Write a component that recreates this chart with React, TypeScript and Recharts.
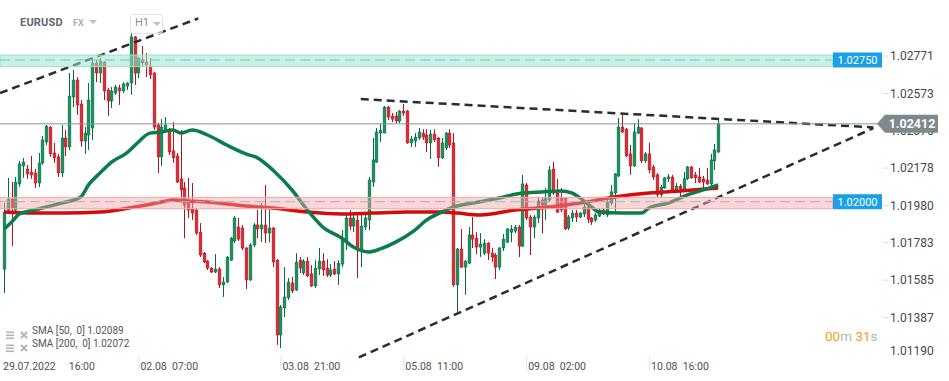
import React from 'react';
import { ComposedChart, Bar, Line, XAxis, YAxis, ReferenceLine, ReferenceArea } from 'recharts';

const openP = [1.01643,1.01956,1.02014,1.01956,1.02094,1.02189,1.02173,1.02157,1.02152,1.02099,1.02205,1.02316,1.02395,1.02258,1.02237,1.02152,1.02337,1.0229,1.02554,1.02644,1.02517,1.02321,1.02353,1.0239,1.02734,1.02681,1.02739,1.02591,1.02533,1.02575,1.02602,1.02586,1.02612,1.02628,1.02872,1.02681,1.0275,1.02739,1.02718,1.02681,1.02406,1.02237,1.02379,1.02379,1.02269,1.02242,1.02121,1.02073,1.01998,1.01961,1.01956,1.01839,1.01728,1.01686,1.01649,1.01628,1.01644,1.0156,1.01575,1.01691,1.01792,1.01866,1.01861,1.01755,1.01586,1.01771,1.01877,1.01856,1.01877,1.01834,1.01861,1.01691,1.01295,1.01438,1.01491,1.0157,1.01533,1.01691,1.01623,1.01686,1.01618,1.01554,1.01644,1.01686,1.01649,1.01612,1.01644,1.01618,1.0167,1.01786,1.01914,1.01871,1.01903,1.01744,1.01866,1.01903,1.02104,1.0221,1.02363,1.02363,1.02501,1.02453,1.02453,1.02427,1.0248,1.0248,1.02311,1.02321,1.02337,1.02363,1.02353,1.02311,1.02358,1.02337,1.02232,1.02284,1.02363,1.02311,1.0156,1.0175,1.01654,1.01675,1.01824,1.01807,1.0176,1.01728,1.01781,1.01728,1.01718,1.01654,1.01755,1.01786,1.01839,1.01845,1.01866,1.01765,1.02089,1.01919,1.01866,1.01914,1.02009,1.01982,1.02009,1.02173,1.02046,1.0202,1.0202,1.01861,1.01914,1.0194,1.01919,1.01935,1.01972,1.01914,1.01903,1.01924,1.01956,1.0193,1.01993,1.02046,1.02136,1.02395,1.02384,1.02253,1.02189,1.02363,1.0239,1.02216,1.02253,1.02184,1.02142,1.02036,1.02073,1.02121,1.02131,1.02062,1.02083,1.02068,1.02121,1.02184,1.02142,1.02131,1.02121,1.02115,1.02094,1.02216,1.02263];
const highP = [1.01993,1.02126,1.02104,1.02131,1.02216,1.02232,1.02195,1.02242,1.02173,1.02258,1.02348,1.02406,1.024,1.02311,1.02253,1.02406,1.02379,1.02681,1.02697,1.0266,1.02538,1.02395,1.02628,1.0276,1.0275,1.0276,1.02744,1.02602,1.02607,1.02618,1.02618,1.02633,1.02633,1.02897,1.02877,1.02766,1.02824,1.02787,1.0276,1.02686,1.02416,1.02437,1.02448,1.0239,1.02421,1.02258,1.02379,1.02104,1.02126,1.02099,1.01967,1.01887,1.01734,1.01691,1.01654,1.01723,1.01654,1.01602,1.01712,1.01813,1.01924,1.01914,1.01877,1.0176,1.01781,1.01887,1.01956,1.01993,1.02089,1.01956,1.01866,1.01696,1.01454,1.01654,1.01596,1.01602,1.01728,1.01707,1.01696,1.01707,1.01665,1.01691,1.01755,1.01728,1.01696,1.0167,1.01686,1.01691,1.0185,1.0193,1.01956,1.01945,1.0193,1.01945,1.01945,1.02131,1.02337,1.0239,1.02411,1.02506,1.02506,1.02469,1.02475,1.02485,1.02517,1.02485,1.02348,1.02363,1.0239,1.02384,1.02384,1.02379,1.02384,1.02342,1.02337,1.02369,1.02384,1.02363,1.01755,1.01856,1.01691,1.01866,1.01919,1.01839,1.01834,1.01802,1.01786,1.01755,1.01728,1.0176,1.01829,1.01861,1.01877,1.01877,1.01877,1.02142,1.02099,1.0193,1.0193,1.0202,1.0202,1.02073,1.02189,1.0221,1.02121,1.02073,1.02025,1.0193,1.01956,1.01956,1.01945,1.01998,1.01993,1.01919,1.0194,1.01967,1.01967,1.02009,1.02089,1.02152,1.02443,1.02459,1.0239,1.023,1.02416,1.02437,1.02395,1.02263,1.02311,1.02195,1.02152,1.02089,1.02131,1.02147,1.02142,1.02099,1.02094,1.02157,1.02189,1.02189,1.02157,1.02179,1.02136,1.02179,1.02253,1.02306,1.02443];
const lowP = [1.01517,1.01945,1.01765,1.01945,1.02078,1.02126,1.02121,1.02121,1.02073,1.02078,1.02195,1.023,1.02237,1.02205,1.02131,1.02131,1.02242,1.02274,1.02501,1.02459,1.0229,1.02253,1.02274,1.02327,1.02633,1.02628,1.02538,1.02453,1.02496,1.02565,1.02512,1.02575,1.02591,1.02565,1.02618,1.02654,1.02713,1.0266,1.02649,1.02379,1.02152,1.02189,1.02369,1.02247,1.02205,1.02099,1.01993,1.01807,1.01914,1.01903,1.01824,1.01707,1.01675,1.01639,1.01623,1.01623,1.01544,1.01496,1.0157,1.01686,1.01781,1.01792,1.01744,1.01538,1.01581,1.0176,1.01807,1.01786,1.01781,1.01786,1.01654,1.01242,1.01226,1.0139,1.0148,1.01517,1.01528,1.01623,1.01612,1.01602,1.01549,1.01544,1.01612,1.01607,1.01602,1.01602,1.01612,1.0156,1.01654,1.01744,1.0185,1.01839,1.01596,1.01654,1.0185,1.0185,1.02078,1.02205,1.02316,1.02363,1.02432,1.02421,1.02416,1.02416,1.02453,1.02306,1.0229,1.0229,1.02327,1.02327,1.02263,1.02226,1.02316,1.02184,1.02226,1.02274,1.02284,1.01549,1.01406,1.01649,1.01507,1.0167,1.01755,1.01723,1.01707,1.01718,1.01691,1.01681,1.01591,1.01639,1.01739,1.01781,1.01786,1.01834,1.01707,1.0176,1.01903,1.01718,1.01807,1.01887,1.01834,1.01903,1.01998,1.02036,1.0194,1.01945,1.0185,1.0185,1.01893,1.01893,1.01914,1.01919,1.01887,1.01877,1.01893,1.01919,1.0193,1.01919,1.01982,1.01945,1.02131,1.02363,1.02237,1.02142,1.02184,1.02358,1.02205,1.02205,1.02152,1.02115,1.02025,1.02025,1.02068,1.02104,1.02052,1.02052,1.02025,1.02062,1.02115,1.02121,1.02099,1.02099,1.02073,1.02089,1.02062,1.02168,1.02258];
const closeP = [1.01945,1.02014,1.01967,1.02104,1.022,1.0221,1.02147,1.02142,1.02099,1.02205,1.02327,1.024,1.02253,1.02232,1.02152,1.02337,1.0229,1.02559,1.02644,1.02512,1.02321,1.02363,1.02538,1.02734,1.02681,1.02744,1.02586,1.02533,1.02586,1.02607,1.02586,1.02623,1.02628,1.02872,1.02681,1.0276,1.02734,1.02723,1.02671,1.02395,1.02237,1.02395,1.02406,1.02263,1.02232,1.02104,1.02062,1.01982,1.01956,1.0194,1.01834,1.01718,1.01681,1.01649,1.01628,1.01644,1.0156,1.01575,1.01707,1.01807,1.01914,1.01802,1.01755,1.01586,1.01771,1.01877,1.01856,1.01877,1.01834,1.01861,1.01681,1.01295,1.01443,1.01496,1.01575,1.01528,1.01681,1.01649,1.01686,1.01607,1.01554,1.01649,1.01686,1.01639,1.01612,1.01639,1.01618,1.01675,1.01797,1.01914,1.01871,1.01914,1.01744,1.01871,1.01914,1.02115,1.02221,1.02369,1.02379,1.02501,1.02448,1.02437,1.02427,1.0248,1.02469,1.02311,1.02332,1.02342,1.02369,1.02342,1.02311,1.02358,1.02327,1.02232,1.02311,1.02363,1.023,1.0156,1.0175,1.01654,1.01686,1.01824,1.01802,1.0176,1.01776,1.01781,1.01728,1.01707,1.01654,1.01755,1.01802,1.01856,1.01856,1.01866,1.01765,1.02094,1.01914,1.01866,1.01919,1.02004,1.01982,1.0202,1.02168,1.02046,1.01945,1.01956,1.01856,1.01919,1.0194,1.01919,1.0194,1.01972,1.01908,1.01893,1.0193,1.01956,1.01935,1.01998,1.02052,1.02147,1.02395,1.02369,1.02242,1.02189,1.02369,1.02395,1.02216,1.02253,1.02168,1.02131,1.02036,1.02078,1.02126,1.02131,1.02062,1.02083,1.02068,1.02121,1.02184,1.02126,1.02126,1.02104,1.02104,1.02094,1.02221,1.02274,1.02412];

const sma50Idx = [0,2,4,8,11,15,20,22,25,28,32,35,38,41,44,46,49,53,58,63,66,70,75,79,83,88,91,95,98,102,107,110,114,117,122,125,129,135,140,145,148,150,153,155,161,166,168,173,178,183,186];
const sma50Val = [1.01855,1.01893,1.01935,1.01956,1.01972,1.01993,1.02025,1.02089,1.02152,1.0221,1.02258,1.02316,1.02363,1.02369,1.02379,1.02363,1.02379,1.02353,1.023,1.02253,1.02232,1.02168,1.02062,1.01956,1.01866,1.01807,1.0176,1.01734,1.0175,1.01786,1.0185,1.01903,1.01945,1.01972,1.01993,1.02004,1.0202,1.02046,1.02052,1.02057,1.02046,1.0202,1.01972,1.01945,1.0194,1.0194,1.01967,1.01993,1.02036,1.02068,1.02089];
const sma200Idx = [0,8,16,25,34,41,44,48,53,58,63,70,79,88,96,105,114,118,124,133,142,150,159,168,176,186];
const sma200Val = [1.01945,1.0194,1.0194,1.01945,1.01972,1.01998,1.02009,1.02004,1.01998,1.01988,1.01977,1.01967,1.01945,1.01935,1.0194,1.01945,1.01945,1.0194,1.0193,1.01956,1.01972,1.01993,1.02025,1.02046,1.02057,1.02072];

const yTicks = [1.02771, 1.02573, 1.02376, 1.02178, 1.0198, 1.01783, 1.01585, 1.01387, 1.0119];
const yDomain = [1.011731, 1.030673];
const xDomain = [-1.042, 228.13];
const xTickIdx = [0, 35, 72, 104, 136, 168];
const xTickLabels = ['29.07.2022     16:00', '02.08  07:00', '03.08  21:00', '05.08  11:00', '09.08  02:00', '10.08  16:00'];

const resistanceLevel = 1.0275;
const resistanceBand = [1.02715, 1.02776];
const supportLevel = 1.02;
const supportBand = [1.01963, 1.02023];
const bandEndIdx = 215.8;
const lastPrice = 1.02412;
const trendLines = [
  [[-1.042, 1.02575], [50.6, 1.0297]],
  [[92.9, 1.02543], [226.4, 1.02393]],
  [[92.4, 1.01176], [226.4, 1.02389]],
];
const legendRows = ['SMA [50,  0] 1.02089', 'SMA [200,  0] 1.02072'];

const candles = openP.map((o, i) => ({
  i, open: o, high: highP[i], low: lowP[i], close: closeP[i], range: [lowP[i], highP[i]],
}));
const sma50Data = sma50Idx.map((i, k) => ({ i, v: sma50Val[k] }));
const sma200Data = sma200Idx.map((i, k) => ({ i, v: sma200Val[k] }));
const yAxisTicks = [...yTicks, lastPrice];

const FONT = 'Roboto, "Noto Sans", sans-serif';

const Candle = (props: any) => {
  const { x, y, width, height, payload } = props;
  if (!payload || x == null) return null;
  const { open, close, high, low } = payload;
  const cx = Math.round(x + width / 2) + 0.5;
  const ratio = height / (high - low || 1e-9);
  const top = y + (high - Math.max(open, close)) * ratio;
  const bot = y + (high - Math.min(open, close)) * ratio;
  const up = close >= open;
  const body = up ? '#1a9160' : '#de2a34';
  const edge = up ? '#0b6840' : '#ad151e';
  return (
    <g>
      <line x1={cx} x2={cx} y1={y} y2={y + height} stroke={edge} strokeWidth={1} />
      <rect x={cx - 1.4} y={top} width={2.8} height={Math.max(bot - top, 1)} fill={body} stroke={edge} strokeWidth={0.5} />
    </g>
  );
};

const YTick = (props: any) => {
  const { x, y, payload } = props;
  const v = Number(payload.value);
  if (v === lastPrice) {
    const tip = x - 3;
    const pts = `${tip},${y} ${tip + 8},${y - 9} ${tip + 61},${y - 9} ${tip + 61},${y + 9} ${tip + 8},${y + 9}`;
    return (
      <g>
        <polygon points={pts} fill="#7f888d" />
        <text x={tip + 35} y={y} dy="0.36em" textAnchor="middle" fontSize={12.5} fontWeight="bold" fill="#fff" fontFamily={FONT}>
          {v.toFixed(5)}
        </text>
      </g>
    );
  }
  const edge = y > 348;
  return (
    <g>
      {!edge && <line x1={x + 3} x2={x + 8} y1={y} y2={y} stroke="#dcdcdc" strokeWidth={1} />}
      <text x={x + 10} y={edge ? y - 4 : y} dy="0.35em" fontSize={12} fill="#45484b" fontFamily={FONT}>
        {v.toFixed(5)}
      </text>
    </g>
  );
};

const XTick = (props: any) => {
  const { x, y, payload, index } = props;
  const k = xTickIdx.indexOf(payload.value);
  return (
    <g>
      {index > 0 && <line x1={x + 0.5} x2={x + 0.5} y1={y - 2} y2={y + 12} stroke="#e3e3e3" strokeWidth={1} />}
      <text x={index === 0 ? x - 1 : x + 2} y={y + 8} dy="0.35em" fontSize={10.5} fill="#505050" fontFamily={FONT} style={{ whiteSpace: 'pre' }}>
        {xTickLabels[k >= 0 ? k : 0]}
      </text>
    </g>
  );
};

const LevelTag = (props: any) => {
  const vb = props.viewBox || {};
  const right = (vb.x || 0) + (vb.width || 0);
  const y = vb.y || 0;
  return (
    <g>
      <rect x={right - 47} y={y - 7.5} width={49} height={15} fill="#1aa0e6" />
      <text x={right - 22.5} y={y} dy="0.35em" textAnchor="middle" fontSize={11} fill="#fff" fontFamily={FONT}>
        {props.text}
      </text>
    </g>
  );
};

const Tri = ({ x, y, c }: { x: number; y: number; c: string }) => (
  <div style={{ position: 'absolute', left: x, top: y, width: 0, height: 0, borderLeft: '4px solid transparent', borderRight: '4px solid transparent', borderTop: `4px solid ${c}` }} />
);

const LegendIcon = ({ top }: { top: number }) => (
  <div style={{ position: 'absolute', left: 6, top }}>
    <svg width={24} height={10}>
      <rect x={0} y={0.5} width={8} height={1.6} fill="#b5b5b5" />
      <rect x={0} y={3.5} width={8} height={1.6} fill="#b5b5b5" />
      <rect x={0} y={6.5} width={8} height={1.6} fill="#b5b5b5" />
      <path d="M15 1 L21 7 M21 1 L15 7" stroke="#b5b5b5" strokeWidth={2} />
    </svg>
  </div>
);

export default function App() {
  return (
    <div style={{ position: 'absolute', left: 0, top: 0, width: 949, height: 381, background: '#fff', fontFamily: FONT, overflow: 'hidden' }}>
      <ComposedChart width={949} height={381} data={candles} margin={{ top: 0, right: 0, bottom: 0, left: 0 }}>
        <XAxis dataKey="i" type="number" domain={xDomain} allowDataOverflow ticks={xTickIdx} interval={0} tick={<XTick />} tickLine={false} axisLine={false} height={23} tickSize={0} tickMargin={0} />
        <YAxis orientation="right" type="number" domain={yDomain} allowDataOverflow ticks={yAxisTicks} interval={0} tick={<YTick />} tickLine={false} axisLine={false} width={69} tickSize={0} tickMargin={0} />
        <Bar dataKey="range" isAnimationActive={false} shape={(p: any) => <Candle {...p} />} />
        <Line data={sma200Data} dataKey="v" type="monotone" stroke="#d20b0b" strokeWidth={3.5} dot={false} activeDot={false} isAnimationActive={false} />
        <Line data={sma50Data} dataKey="v" type="monotone" stroke="#0b7c4b" strokeWidth={3.5} dot={false} activeDot={false} isAnimationActive={false} />
        {trendLines.map((seg, k) => (
          <ReferenceLine key={`t${k}`} segment={[{ x: seg[0][0], y: seg[0][1] }, { x: seg[1][0], y: seg[1][1] }]} stroke="#262d33" strokeWidth={2.5} strokeDasharray="8 5" ifOverflow="visible" zIndex={700} />
        ))}
        <ReferenceLine y={lastPrice} stroke="#8c9397" strokeWidth={1} ifOverflow="visible" zIndex={800} />
        <ReferenceArea x1={xDomain[0]} x2={bandEndIdx} y1={resistanceBand[0]} y2={resistanceBand[1]} fill="#9ee6cb" fillOpacity={0.55} stroke="#9de0c6" strokeWidth={1} ifOverflow="visible" zIndex={900} />
        <ReferenceArea x1={xDomain[0]} x2={bandEndIdx} y1={supportBand[0]} y2={supportBand[1]} fill="#f7a3a3" fillOpacity={0.45} stroke="#f3a9a9" strokeWidth={1} ifOverflow="visible" zIndex={900} />
        <ReferenceLine segment={[{ x: xDomain[0], y: resistanceLevel }, { x: bandEndIdx, y: resistanceLevel }]} stroke="#66c6e2" strokeWidth={1} strokeDasharray="10 5" ifOverflow="visible" zIndex={1000} />
        <ReferenceLine segment={[{ x: xDomain[0], y: supportLevel }, { x: bandEndIdx, y: supportLevel }]} stroke="#a3b3d3" strokeWidth={1} strokeDasharray="10 5" ifOverflow="visible" zIndex={1000} />
        <ReferenceLine y={resistanceLevel} stroke="none" ifOverflow="visible" label={<LevelTag text={resistanceLevel.toFixed(5)} />} zIndex={1100} />
        <ReferenceLine y={supportLevel} stroke="none" ifOverflow="visible" label={<LevelTag text={supportLevel.toFixed(5)} />} zIndex={1100} />
      </ComposedChart>

      <div style={{ position: 'absolute', left: 20, top: 16, fontSize: 11, fontWeight: 700, color: '#5f676f', letterSpacing: 0.2 }}>EURUSD</div>
      <div style={{ position: 'absolute', left: 73, top: 18, fontSize: 9, fontWeight: 700, color: '#aab1b7' }}>FX</div>
      <Tri x={89} y={20} c="#bcc2c7" />
      <div style={{ position: 'absolute', left: 130, top: 14, width: 33, height: 20, border: '1px solid #e2e5e8', borderRadius: 3, boxSizing: 'border-box', background: 'rgba(255,255,255,0.6)' }} />
      <div style={{ position: 'absolute', left: 135, top: 16, fontSize: 11, color: '#878e95' }}>H1</div>
      <Tri x={153} y={22} c="#bcc2c7" />

      {legendRows.map((t, k) => (
        <React.Fragment key={t}>
          <LegendIcon top={326 + k * 13} />
          <div style={{ position: 'absolute', left: 32, top: 325 + k * 13, fontSize: 10, color: '#555', whiteSpace: 'pre' }}>{t}</div>
        </React.Fragment>
      ))}

      <div style={{ position: 'absolute', left: 825, top: 328, fontSize: 13.5, whiteSpace: 'pre' }}>
        <span style={{ color: '#f5a01a' }}>00</span>
        <span style={{ color: '#b4b4b4' }}>m </span>
        <span style={{ color: '#f5a01a' }}>31</span>
        <span style={{ color: '#b4b4b4' }}>s</span>
      </div>
    </div>
  );
}
